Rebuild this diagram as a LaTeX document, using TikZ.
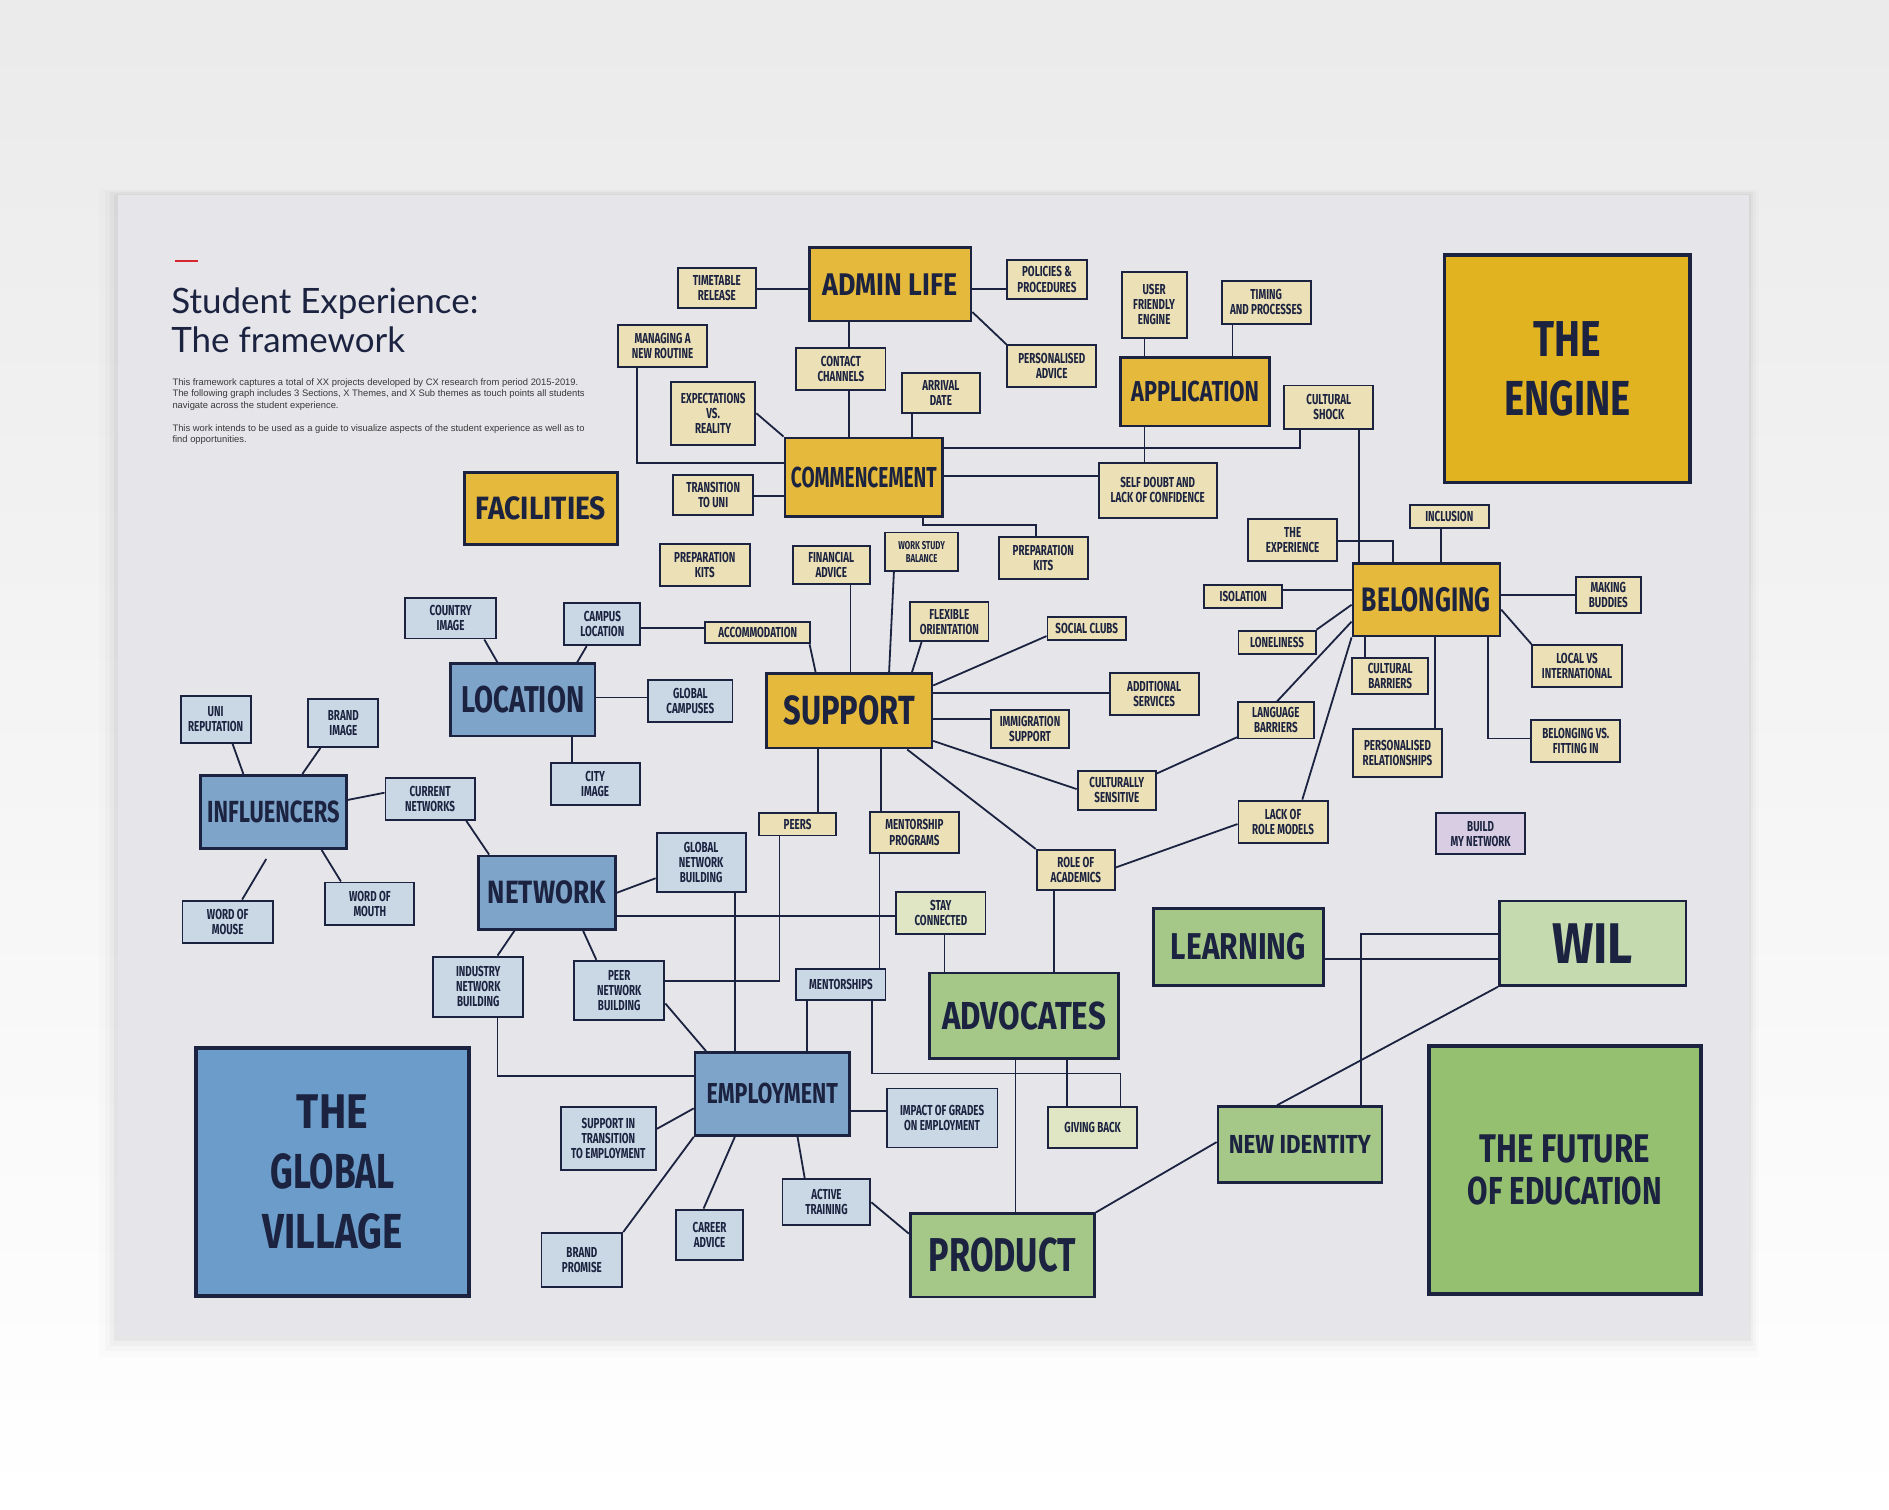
\documentclass[tikz,border=0pt]{standalone}
\usepackage{fontspec}
\usepackage{graphicx}
\newfontfamily\handfont[FakeStretch=0.68]{Fira Sans}
\newfontfamily\titlefont{Lato}
\newfontfamily\parafont{Liberation Sans}
\definecolor{ink}{HTML}{1B2340}
\definecolor{paper}{HTML}{E6E6EA}
\definecolor{themeY}{HTML}{E4B93C}
\definecolor{engineY}{HTML}{E1B320}
\definecolor{paleY}{HTML}{ECE0B6}
\definecolor{themeB}{HTML}{7FA4C9}
\definecolor{villageB}{HTML}{6C9DCA}
\definecolor{paleB}{HTML}{CAD7E4}
\definecolor{themeG}{HTML}{A5C788}
\definecolor{wilG}{HTML}{C5DBAF}
\definecolor{futureG}{HTML}{95C06F}
\definecolor{paleG}{HTML}{E0E5C3}
\definecolor{paleP}{HTML}{D8CDE2}
\definecolor{redmark}{HTML}{D7262E}
\newcommand\BL[3]{\resizebox{#1pt}{#2pt}{\handfont\bfseries #3}}
\tikzset{
 con/.style={draw=ink, line width=1.5pt},
 sz/.style 2 args={minimum width=#1pt, minimum height=#2pt},
 box/.style={draw=ink, rectangle, inner sep=0pt, align=center, text=ink, line width=1.6pt},
 sub/.style={box, font={\handfont\bfseries\fontsize{12}{12.5}\selectfont}},
 subY/.style={sub, fill=paleY},
 subB/.style={sub, fill=paleB},
 subG/.style={sub, fill=paleG},
 subP/.style={sub, fill=paleP},
 thm/.style={box, line width=2.2pt, font={\fontsize{10}{12}\selectfont}},
 thmY/.style={thm, fill=themeY},
 thmB/.style={thm, fill=themeB},
 thmG/.style={thm, fill=themeG},
 hero/.style={box, line width=3pt},
}
\begin{document}
\begin{tikzpicture}[x=1pt,y=-1pt]
\useasboundingbox (0,0) rectangle (1568,1253);
% background and paper
\shade[top color=black!8, bottom color=white] (0,0) rectangle (1568,1253);
\foreach \i/\o in {16/0.012, 11/0.018, 7/0.025, 3/0.035}
  \fill[black, opacity=\o] (98-\i,162-\i/3) rectangle (1452+\i/2,1110+\i);
\fill[paper] (98,162) rectangle (1452,1110);
% title block
\draw[redmark, line width=1.6pt] (145,217) -- (164,217);
\node[anchor=base west, inner sep=0pt, text=ink, font={\titlefont\fontsize{29}{33}\selectfont}] (title1) at (142,260) {Student Experience:};
\node[anchor=base west, inner sep=0pt, text=ink, font={\titlefont\fontsize{29}{33}\selectfont}] (title2) at (142,293) {The framework};
\node[anchor=north west, inner sep=0pt, align=left, text=black!78, font={\parafont\fontsize{7.8}{9.6}\selectfont}] (para) at (143,314)
 { This framework captures a total of XX projects developed by CX research from period 2015-2019.\\
 The following graph includes 3 Sections, X Themes, and X Sub themes as touch points all students\\
 navigate across the student experience.\\[9.4pt]
 This work intends to be used as a guide to visualize aspects of the student experience as well as to\\
 find opportunities.};

% ===== theme nodes =====
\node[thmY, sz={134}{61}] (admin) at (739,236) {\BL{112}{18}{ADMIN LIFE}};
\node[thmY, sz={131}{65}] (comm) at (717,396) {\BL{121}{17}{COMMENCEMENT}};
\node[thmY, sz={124}{57}] (app) at (992,325) {\BL{106}{17}{APPLICATION}};
\node[thmY, sz={127}{60}] (fac) at (449,422) {\BL{108}{19}{FACILITIES}};
\node[thmY, sz={137}{62}] (sup) at (705,590) {\BL{109}{24}{SUPPORT}};
\node[thmY, sz={122}{60}] (bel) at (1184,498) {\BL{107}{20}{BELONGING}};
\node[hero, fill=engineY, sz={204}{189}, font={\fontsize{10}{49}\selectfont}] (engine) at (1301,306) {\BL{56}{29}{THE}\\\BL{105}{29}{ENGINE}};

\node[thmB, sz={120}{60}] (loc) at (434,581) {\BL{102}{22}{LOCATION}};
\node[thmB, sz={121}{61}] (infl) at (227,674) {\BL{110}{18}{INFLUENCERS}};
\node[thmB, sz={114}{61}] (net) at (454,741) {\BL{98}{19}{NETWORK}};
\node[thmB, sz={128}{69}] (emp) at (641,908) {\BL{109}{17}{EMPLOYMENT}};
\node[hero, fill=villageB, sz={227}{206}, font={\fontsize{10}{50}\selectfont}] (village) at (276,973) {\BL{59}{28}{THE}\\\BL{103}{29}{GLOBAL}\\\BL{116}{29}{VILLAGE}};

\node[thmG, sz={157}{71}] (adv) at (850,843) {\BL{136}{23}{ADVOCATES}};
\node[thmG, sz={153}{69}] (prod) at (832,1042) {\BL{122}{28}{PRODUCT}};
\node[thmG, sz={141}{64}] (learn) at (1028,786) {\BL{112}{22}{LEARNING}};
\node[thmG, sz={136}{63}] (nid) at (1079,950) {\BL{118}{15}{NEW IDENTITY}};
\node[thmG, fill=wilG, sz={155}{70}] (wil) at (1322,783) {\BL{67}{33}{WIL}};
\node[hero, fill=futureG, sz={226}{206}, font={\fontsize{10}{35}\selectfont}] (future) at (1299,971) {\BL{141}{23}{THE FUTURE}\\\BL{161}{23}{OF EDUCATION}};

% ===== yellow sub nodes =====
\node[subY, sz={65}{33}] (tt) at (595,239) {TIMETABLE\\RELEASE};
\node[subY, sz={66}{33}] (pol) at (869,232) {POLICIES \&\\PROCEDURES};
\node[subY, sz={74}{35}] (mng) at (550,287) {MANAGING A\\NEW ROUTINE};
\node[subY, sz={74}{35}] (contact) at (698,306) {CONTACT\\CHANNELS};
\node[subY, sz={74}{35}] (padv) at (873,304) {PERSONALISED\\ADVICE};
\node[subY, sz={65}{33}] (arr) at (781,326) {ARRIVAL\\DATE};
\node[subY, sz={70}{52}] (exp) at (592,343) {EXPECTATIONS\\VS.\\REALITY};
\node[subY, sz={66}{33}] (trans) at (592,411) {TRANSITION\\TO UNI};
\node[subY, sz={54}{55}] (ufe) at (958,253) {USER\\FRIENDLY\\ENGINE};
\node[subY, sz={74}{36}] (tim) at (1051,251) {TIMING\\AND PROCESSES};
\node[subY, sz={74}{36}] (cshock) at (1103,338) {CULTURAL\\SHOCK};
\node[subY, sz={98}{46}] (sdoubt) at (961,407) {SELF DOUBT AND\\LACK OF CONFIDENCE};
\node[subY, sz={74}{35}] (exper) at (1073,448) {THE\\EXPERIENCE};
\node[subY, sz={66}{19}] (incl) at (1203,429) {INCLUSION};
\node[subY, sz={75}{35}] (prep1) at (585,469) {PREPARATION\\KITS};
\node[subY, sz={64}{32}] (fin) at (690,469) {FINANCIAL\\ADVICE};
\node[subY, sz={61}{32}, font={\handfont\bfseries\fontsize{9.5}{11}\selectfont}] (wsb) at (765,458) {WORK STUDY\\BALANCE};
\node[subY, sz={74}{35}] (prep2) at (866,463) {PREPARATION\\KITS};
\node[subY, sz={65}{32}] (flex) at (788,516) {FLEXIBLE\\ORIENTATION};
\node[subY, sz={65}{19}] (soc) at (902,522) {SOCIAL CLUBS};
\node[subY, sz={87}{18}] (acc) at (629,525) {ACCOMMODATION};
\node[subY, sz={74}{35}] (add) at (958,576) {ADDITIONAL\\SERVICES};
\node[subY, sz={65}{32}] (imm) at (855,605) {IMMIGRATION\\SUPPORT};
\node[subY, sz={65}{32}] (culsens) at (927,656) {CULTURALLY\\SENSITIVE};
\node[subY, sz={64}{19}] (peers) at (662,684) {PEERS};
\node[subY, sz={74}{34}] (mprog) at (759,691) {MENTORSHIP\\PROGRAMS};
\node[subY, sz={65}{33}] (role) at (893,722) {ROLE OF\\ACADEMICS};
\node[subY, sz={65}{19}] (iso) at (1032,495) {ISOLATION};
\node[subY, sz={64}{19}] (lone) at (1060,533) {LONELINESS};
\node[subY, sz={54}{30}] (bud) at (1335,494) {MAKING\\BUDDIES};
\node[subY, sz={63}{30}] (cbar) at (1154,561) {CULTURAL\\BARRIERS};
\node[subY, sz={74}{35}] (lvi) at (1309,553) {LOCAL VS\\INTERNATIONAL};
\node[subY, sz={63}{30}] (lang) at (1059,598) {LANGUAGE\\BARRIERS};
\node[subY, sz={74}{40}] (prel) at (1160,625) {PERSONALISED\\RELATIONSHIPS};
\node[subY, sz={74}{35}] (fit) at (1308,615) {BELONGING VS.\\FITTING IN};
\node[subY, sz={74}{35}] (lack) at (1065,682) {LACK OF\\ROLE MODELS};
\node[subP, sz={74}{34}] (bmn) at (1229,692) {BUILD\\MY NETWORK};

% ===== blue sub nodes =====
\node[subB, sz={75}{34}] (cty) at (374,513) {COUNTRY\\IMAGE};
\node[subB, sz={63}{35}] (camp) at (500,518) {CAMPUS\\LOCATION};
\node[subB, sz={70}{35}] (gcam) at (573,582) {GLOBAL\\CAMPUSES};
\node[subB, sz={74}{35}] (city) at (494,651) {CITY\\IMAGE};
\node[subB, sz={58}{39}] (uni) at (179,597) {UNI\\REPUTATION};
\node[subB, sz={58}{40}] (brand) at (285,600) {BRAND\\IMAGE};
\node[subB, sz={74}{35}] (curr) at (357,663) {CURRENT\\NETWORKS};
\node[subB, sz={75}{35}] (womouse) at (189,765) {WORD OF\\MOUSE};
\node[subB, sz={74}{35}] (womouth) at (307,750) {WORD OF\\MOUTH};
\node[subB, sz={74}{49}] (gnb) at (582,716) {GLOBAL\\NETWORK\\BUILDING};
\node[subB, sz={75}{50}] (ind) at (397,819) {INDUSTRY\\NETWORK\\BUILDING};
\node[subB, sz={75}{49}] (pnb) at (514,822) {PEER\\NETWORK\\BUILDING};
\node[subB, sz={74}{26}] (ment) at (698,817) {MENTORSHIPS};
\node[subB, sz={92}{49}] (imp) at (782,928) {IMPACT OF GRADES\\ON EMPLOYMENT};
\node[subB, sz={79}{52}] (sit) at (505,945) {SUPPORT IN\\TRANSITION\\TO EMPLOYMENT};
\node[subB, sz={67}{45}] (bp) at (483,1046) {BRAND\\PROMISE};
\node[subB, sz={55}{42}] (car) at (589,1025) {CAREER\\ADVICE};
\node[subB, sz={73}{38}] (act) at (686,998) {ACTIVE\\TRAINING};

% ===== green sub nodes =====
\node[subG, sz={74}{35}] (stay) at (781,758) {STAY\\CONNECTED};
\node[subG, sz={74}{34}] (give) at (907,936) {GIVING BACK};

\coordinate (mousefree) at (221,713);

% ===== connectors =====
\draw[con] (tt.east |- 0,240) -- (admin.west |- 0,240);
\draw[con] (admin.east |- 0,240) -- (pol.west |- 0,240);
\draw[con] (admin.east |- 0,259) -- (padv.north west);
\draw[con] (admin.south -| 705,0) -- (contact.north -| 705,0);
\draw[con] (contact.south -| 705,0) -- (comm.north -| 705,0);
\draw[con] (arr.south -| 757,0) -- (comm.north -| 757,0);
\draw[con] (exp.east |- 0,343) -- (comm.north west);
\draw[con] (mng.south -| 529,0) |- (comm.west |- 0,384);
\draw[con] (trans.east |- 0,412) -- (comm.west |- 0,412);
\draw[con] (comm.east |- 0,372) -| (cshock.south -| 1079,0);
\draw[con] (comm.east |- 0,395) -- (sdoubt.west |- 0,395);
\draw[con] (app.south -| 950,0) -- (sdoubt.north -| 950,0);
\draw[con] (ufe.south -| 950,0) -- (app.north -| 950,0);
\draw[con] (tim.south -| 1023,0) -- (app.north -| 1023,0);
\draw[con] (comm.south -| 766,0) |- (860,436) -- (prep2.north -| 860,0);
\draw[con] (cshock.south -| 1128,0) -- (bel.north -| 1128,0);
\draw[con] (exper.east |- 0,449) -| (bel.north -| 1156,0);
\draw[con] (incl.south -| 1196,0) -- (bel.north -| 1196,0);
\draw[con] (iso.east |- 0,490) -- (bel.west |- 0,490);
\draw[con] (lone.north east) -- (bel.west |- 0,502);
\draw[con] (lang.north -| 1060,0) -- (bel.west |- 0,516);
\draw[con] (lack.north -| 1081,0) -- (bel.south west);
\draw[con] (cbar.north -| 1133,0) -- (bel.south -| 1133,0);
\draw[con] (prel.north -| 1191,0) -- (bel.south -| 1191,0);
\draw[con] (bel.south -| 1235,0) |- (fit.west |- 0,613);
\draw[con] (bel.east |- 0,506) -- (lvi.north west);
\draw[con] (bel.east |- 0,494) -- (bud.west |- 0,494);
\draw[con] (lang.west |- 0,612) -- (culsens.east |- 0,642);
\draw[con] (lack.west |- 0,684) -- (role.east |- 0,720);
\draw[con] (acc.south -| 672,0) -- (sup.north -| 677,0);
\draw[con] (fin.south -| 706,0) -- (sup.north -| 706,0);
\draw[con] (wsb.south -| 742,0) -- (sup.north -| 738,0);
\draw[con] (flex.south -| 765,0) -- (sup.north -| 757,0);
\draw[con] (sup.east |- 0,569) -- (soc.west |- 0,528);
\draw[con] (sup.east |- 0,575) -- (add.west |- 0,575);
\draw[con] (sup.east |- 0,597) -- (imm.west |- 0,597);
\draw[con] (sup.east |- 0,615) -- (culsens.west |- 0,655);
\draw[con] (sup.south -| 753,0) -- (role.north west);
\draw[con] (sup.south -| 679,0) -- (peers.north -| 679,0);
\draw[con] (sup.south -| 731,0) -- (mprog.north -| 731,0);
\draw[con] (camp.east |- 0,521) -- (acc.west |- 0,521);
\draw[con] (cty.south -| 402,0) -- (loc.north -| 413,0);
\draw[con] (camp.south -| 487,0) -- (loc.north -| 479,0);
\draw[con] (loc.east |- 0,579) -- (gcam.west |- 0,579);
\draw[con] (loc.south -| 475,0) -- (city.north -| 475,0);
\draw[con] (uni.south -| 193,0) -- (infl.north -| 202,0);
\draw[con] (brand.south -| 266,0) -- (infl.north -| 251,0);
\draw[con] (infl.east |- 0,664) -- (curr.west |- 0,658);
\draw[con] (curr.south -| 387,0) -- (net.north -| 406,0);
\draw[con] (infl.south -| 267,0) -- (womouth.north -| 283,0);
\draw[con] (mousefree) -- (womouse.north -| 201,0);
\draw[con] (net.east |- 0,741) -- (gnb.west |- 0,729);
\draw[con] (net.east |- 0,760) -- (stay.west |- 0,760);
\draw[con] (net.south -| 427,0) -- (ind.north -| 413,0);
\draw[con] (net.south -| 484,0) -- (pnb.north -| 495,0);
\draw[con] (gnb.south -| 610,0) -- (emp.north -| 610,0);
\draw[con] (peers.south -| 647,0) |- (pnb.east |- 0,814);
\draw[con] (pnb.east |- 0,833) -- (emp.north -| 586,0);
\draw[con] (mprog.south -| 730,0) -- (ment.north -| 730,0);
\draw[con] (ment.south -| 670,0) -- (emp.north -| 670,0);
\draw[con] (ment.south -| 724,0) |- (930,891) -- (give.north -| 930,0);
\draw[con] (ind.south -| 413,0) |- (emp.west |- 0,893);
\draw[con] (stay.south -| 784,0) -- (adv.north -| 784,0);
\draw[con] (role.south -| 875,0) -- (adv.north -| 875,0);
\draw[con] (sit.east |- 0,937) -- (emp.west |- 0,920);
\draw[con] (bp.north east) -- (emp.south west);
\draw[con] (emp.south -| 610,0) -- (car.north -| 584,0);
\draw[con] (emp.south -| 662,0) -- (act.north -| 668,0);
\draw[con] (emp.east |- 0,922) -- (imp.west |- 0,922);
\draw[con] (act.east |- 0,998) -- (prod.west |- 0,1024);
\draw[con] (adv.south -| 843,0) -- (prod.north -| 843,0);
\draw[con] (adv.south -| 886,0) -- (give.north -| 886,0);
\draw[con] (prod.north east) -- (nid.west |- 0,948);
\draw[con] (learn.east |- 0,796) -- (wil.west |- 0,796);
\draw[con] (wil.west |- 0,775) -| (nid.north -| 1130,0);
\draw[con] (wil.south west) -- (nid.north -| 1060,0);
\end{tikzpicture}
\end{document}
